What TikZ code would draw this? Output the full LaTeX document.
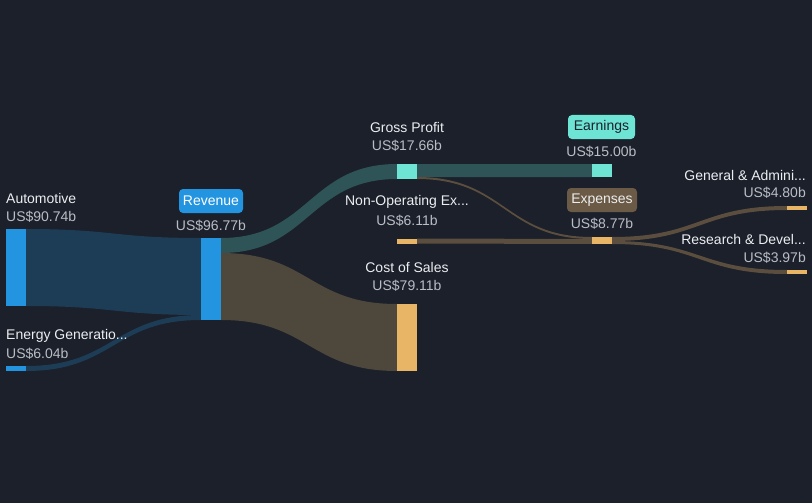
\documentclass[tikz,border=0pt]{standalone}
\usepackage{fontspec}
\setmainfont{Liberation Sans}
\usetikzlibrary{calc}
\definecolor{bg}{HTML}{1B202B}
\definecolor{barblue}{HTML}{2394E0}
\definecolor{barteal}{HTML}{6EE4D5}
\definecolor{barorange}{HTML}{E8B466}
\definecolor{flowblue}{HTML}{1D3C55}
\definecolor{flowteal}{HTML}{2E5457}
\definecolor{flowcost}{HTML}{4E473B}
\definecolor{flowexp}{HTML}{5B4E3E}
\definecolor{expbox}{HTML}{6B5A45}
\definecolor{labtext}{HTML}{ECEEF0}
\definecolor{valtext}{HTML}{B9BDC4}
\definecolor{darktext}{HTML}{1B202B}
\newcommand\band[5]{%
  \path ($(#2)!0.5!(#4)$) coordinate (mid);
  \fill[#1] (#2) .. controls (mid|-#2) and (mid|-#4) .. (#4) -- (#5) .. controls (mid|-#5) and (mid|-#3) .. (#3) -- cycle;}
\tikzset{
  bar/.style={draw=none, inner sep=0pt, minimum width=20pt, anchor=north west},
  lab/.style={text=labtext, font=\fontsize{14}{16}\selectfont, inner sep=0pt},
  val/.style={text=valtext, font=\fontsize{14}{16}\selectfont, inner sep=0pt},
  tag/.style={rounded corners=4pt, minimum height=24pt, inner sep=0pt, font=\fontsize{14}{16}\selectfont}
}
\begin{document}
\begin{tikzpicture}[x=1pt,y=-1pt]
\fill[bg] (0,0) rectangle (812,503);
\useasboundingbox (0,0) rectangle (812,503);
% flow coordinates
\coordinate (a1) at (26,229); \coordinate (a2) at (26,306);
\coordinate (r1) at (201,238); \coordinate (r2) at (201,315);
\coordinate (e1) at (26,366); \coordinate (e2) at (26,371);
\coordinate (r3) at (201,320);
\coordinate (ro1) at (221,238); \coordinate (ro2) at (221,253); \coordinate (ro3) at (221,320);
\coordinate (g1) at (397,164); \coordinate (g2) at (397,179);
\coordinate (c1) at (397,304); \coordinate (c2) at (397,371);
\coordinate (go1) at (417,164); \coordinate (go2) at (417,177); \coordinate (go3) at (417,179);
\coordinate (ea1) at (592,164); \coordinate (ea2) at (592,177);
\coordinate (x1) at (592,237); \coordinate (x2) at (592,239); \coordinate (x3) at (592,244);
\coordinate (n1) at (417,238.5); \coordinate (n2) at (417,243.5);
\coordinate (xo1) at (612,237); \coordinate (xo2) at (612,241); \coordinate (xo3) at (612,244);
\coordinate (ga1) at (787,206); \coordinate (ga2) at (787,210);
\coordinate (rd1) at (787,270); \coordinate (rd2) at (787,274);
% flows
\band{flowblue}{a1}{a2}{r1}{r2}
\band{flowblue}{e1}{e2}{r2}{r3}
\band{flowteal}{ro1}{ro2}{g1}{g2}
\band{flowcost}{ro2}{ro3}{c1}{c2}
\band{flowteal}{go1}{go2}{ea1}{ea2}
\band{flowexp}{go2}{go3}{x1}{x2}
\band{flowexp}{n1}{n2}{x2}{x3}
\band{flowexp}{xo1}{xo2}{ga1}{ga2}
\band{flowexp}{xo2}{xo3}{rd1}{rd2}
% bars
\node[bar, fill=barblue, minimum height=77pt] (auto) at (6,229) {};
\node[bar, fill=barblue, minimum height=5pt] (energy) at (6,366) {};
\node[bar, fill=barblue, minimum height=82pt] (rev) at (201,238) {};
\node[bar, fill=barteal, minimum height=15pt] (gp) at (397,164) {};
\node[bar, fill=barorange, minimum height=67pt] (cos) at (397,304) {};
\node[bar, fill=barorange, minimum height=5pt] (nonop) at (397,238.5) {};
\node[bar, fill=barteal, minimum height=13pt] (earn) at (592,164) {};
\node[bar, fill=barorange, minimum height=7pt] (exp) at (592,237) {};
\node[bar, fill=barorange, minimum height=4pt] (ga) at (787,206) {};
\node[bar, fill=barorange, minimum height=4pt] (rd) at (787,270) {};
% labels
\node[lab, anchor=west] (autol) at (6,198) {Automotive};
\node[val, anchor=west] (autov) at (6,217) {US\$90.74b};
\node[lab, anchor=west] (energyl) at (6,336) {Energy Generatio...};
\node[val, anchor=west] (energyv) at (6,354) {US\$6.04b};
\node[tag, fill=barblue, text=white, minimum width=64pt] (revl) at (211,201) {Revenue};
\node[val] (revv) at (211,226) {US\$96.77b};
\node[lab] (gpl) at (407,127) {Gross Profit};
\node[val] (gpv) at (407,146) {US\$17.66b};
\node[tag, fill=barteal, text=darktext, minimum width=67pt] (earnl) at (601.5,127) {Earnings};
\node[val] (earnv) at (601.5,152) {US\$15.00b};
\node[lab] (nonopl) at (407,202) {Non-Operating Ex...};
\node[val] (nonopv) at (407,221) {US\$6.11b};
\node[tag, fill=expbox, text=labtext, minimum width=70pt] (expl) at (602,200) {Expenses};
\node[val] (expv) at (602,224) {US\$8.77b};
\node[lab] (cosl) at (407,267) {Cost of Sales};
\node[val] (cosv) at (407,286) {US\$79.11b};
\node[lab, anchor=east] (gal) at (806,175) {General \& Admini...};
\node[val, anchor=east] (gav) at (806,193) {US\$4.80b};
\node[lab, anchor=east] (rdl) at (806,239) {Research \& Devel...};
\node[val, anchor=east] (rdv) at (806,258) {US\$3.97b};
\end{tikzpicture}
\end{document}
